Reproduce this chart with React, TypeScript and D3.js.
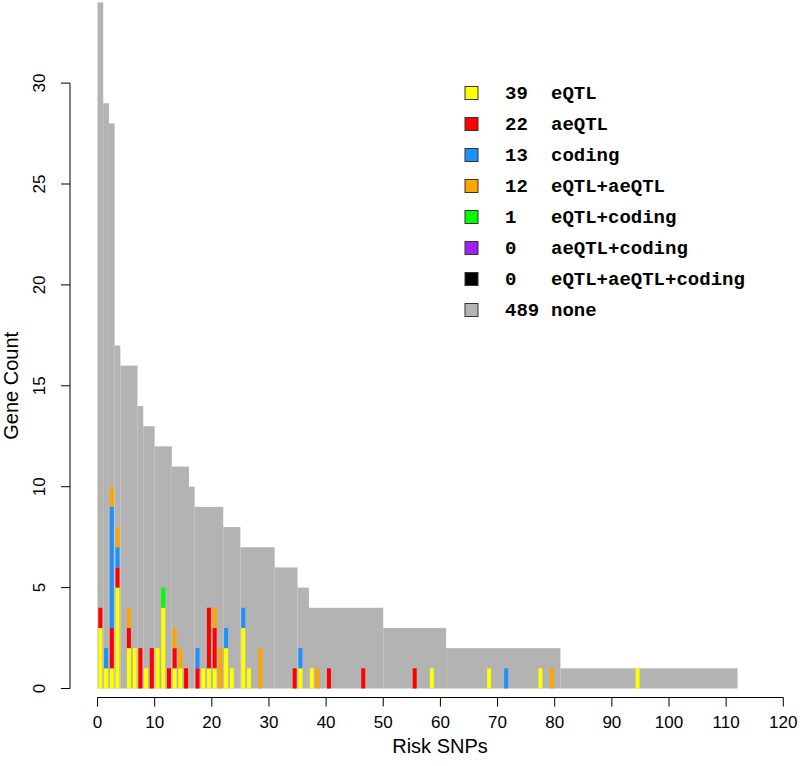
import React from 'react';
import * as d3 from 'd3';

const W = 800;
const H = 766;

// Gray histogram runs (Risk SNP bins [start, end) with gene count)
const binStart = [0, 1, 2, 3, 4, 7, 8, 10, 13, 16, 17, 22, 25, 31, 35, 37, 50, 61, 81];
const binEnd = [1, 2, 3, 4, 7, 8, 10, 13, 16, 17, 22, 25, 31, 35, 37, 50, 61, 81, 112];
const geneCount = [34, 29, 28, 17, 16, 14, 13, 12, 11, 10, 9, 8, 7, 6, 5, 4, 3, 2, 1];

// Colored genes per bin: [bin, count]
const eQTL = [[0, 3], [1, 1], [2, 1], [3, 5], [5, 2], [6, 2], [8, 1], [10, 2], [11, 4], [13, 1], [14, 1], [18, 1], [19, 1], [20, 1], [22, 2], [23, 1], [25, 3], [26, 1], [35, 1], [37, 1], [58, 1], [68, 1], [77, 1], [94, 1]];
const aeQTL = [[0, 1], [2, 2], [3, 1], [5, 1], [7, 2], [9, 2], [12, 1], [13, 1], [15, 1], [17, 1], [19, 3], [20, 2], [34, 1], [40, 1], [46, 1], [55, 1]];
const coding = [[1, 1], [2, 6], [3, 1], [17, 1], [22, 1], [25, 1], [35, 1], [71, 1]];
const eqtlAeqtl = [[2, 1], [3, 1], [5, 1], [13, 1], [14, 1], [20, 1], [21, 2], [28, 2], [38, 1], [79, 1]];
const eqtlCoding = [[11, 1]];

const legendCounts = [39, 22, 13, 12, 1, 0, 0, 489];
const legendLabels = ['eQTL', 'aeQTL', 'coding', 'eQTL+aeQTL', 'eQTL+coding', 'aeQTL+coding', 'eQTL+aeQTL+coding', 'none'];
const legendColors = ['#FFFF00', '#FF0000', '#1E90FF', '#FFA500', '#00FF00', '#A020F0', '#000000', '#B3B3B3'];

const xTicks = d3.range(0, 121, 10);
const yTicks = d3.range(0, 31, 5);

const seriesKeys = ['eQTL', 'aeQTL', 'coding', 'eqtlAeqtl', 'eqtlCoding'];
const seriesData: Record<string, number[][]> = { eQTL, aeQTL, coding, eqtlAeqtl, eqtlCoding };
const seriesColors: Record<string, string> = {
  eQTL: '#FFFF00', aeQTL: '#FF0000', coding: '#1E90FF', eqtlAeqtl: '#FFA500', eqtlCoding: '#00FF00',
};

export default function App() {
  const x = d3.scaleLinear().domain([0, 120]).range([97.5, 783.3]);
  const y = d3.scaleLinear().domain([0, 30]).range([688.5, 83.1]);

  const rows = d3.range(0, 112).map((b) => {
    const r: any = { bin: b };
    seriesKeys.forEach((k) => {
      const f = seriesData[k].find((p) => p[0] === b);
      r[k] = f ? f[1] : 0;
    });
    return r;
  });
  const stacked = d3.stack().keys(seriesKeys)(rows);
  const barW = x(0.7) - x(0);

  const axisY = 697.5;
  const axisX = 70;
  const tick = 9;
  const sans = "'Liberation Sans', Arial, Helvetica, sans-serif";
  const mono = "'Liberation Mono', 'Courier New', monospace";

  return (
    <div style={{ position: 'absolute', left: 0, top: 0 }}>
      <svg width={W} height={H} style={{ display: 'block', background: '#fff' }}>
        {binStart.map((s, i) => (
          <rect key={'g' + i} x={x(s)} y={y(geneCount[i])} width={x(binEnd[i]) - x(s)} height={y(0) - y(geneCount[i])} fill="#B3B3B3" />
        ))}
        {stacked.map((ser) =>
          ser.map((d: any, j: number) =>
            d[1] > d[0] ? (
              <rect key={ser.key + j} x={x(d.data.bin + 0.5) - barW / 2} y={y(d[1])} width={barW} height={y(d[0]) - y(d[1])} fill={seriesColors[ser.key]} />
            ) : null
          )
        )}
        {/* x axis */}
        <line x1={x(0)} x2={x(120)} y1={axisY} y2={axisY} stroke="#000" strokeWidth={1} />
        {xTicks.map((t) => (
          <g key={'xt' + t}>
            <line x1={x(t)} x2={x(t)} y1={axisY} y2={axisY + tick} stroke="#000" strokeWidth={1} />
            <text x={x(t)} y={722} textAnchor="middle" dominantBaseline="central" fontFamily={sans} fontSize={17}>{t}</text>
          </g>
        ))}
        <text x={440} y={746} textAnchor="middle" dominantBaseline="central" fontFamily={sans} fontSize={20}>Risk SNPs</text>
        {/* y axis */}
        <line x1={axisX} x2={axisX} y1={y(0)} y2={y(30)} stroke="#000" strokeWidth={1} />
        {yTicks.map((t) => (
          <g key={'yt' + t}>
            <line x1={axisX - tick} x2={axisX} y1={y(t)} y2={y(t)} stroke="#000" strokeWidth={1} />
            <text transform={`translate(39,${y(t)}) rotate(-90)`} textAnchor="middle" dominantBaseline="central" fontFamily={sans} fontSize={17}>{t}</text>
          </g>
        ))}
        <text transform={`translate(11,${y(15)}) rotate(-90)`} textAnchor="middle" dominantBaseline="central" fontFamily={sans} fontSize={20}>Gene Count</text>
        {/* legend */}
        {legendLabels.map((lab, i) => {
          const cy = 93 + i * 31;
          return (
            <g key={'lg' + i}>
              <rect x={465} y={cy - 6.5} width={13} height={13} fill={legendColors[i]} stroke="#333" strokeWidth={1} />
              <text x={505} y={cy + 1} dominantBaseline="central" fontFamily={mono} fontWeight="bold" fontSize={19}>{legendCounts[i]}</text>
              <text x={551} y={cy + 1} dominantBaseline="central" fontFamily={mono} fontWeight="bold" fontSize={19}>{lab}</text>
            </g>
          );
        })}
      </svg>
    </div>
  );
}
